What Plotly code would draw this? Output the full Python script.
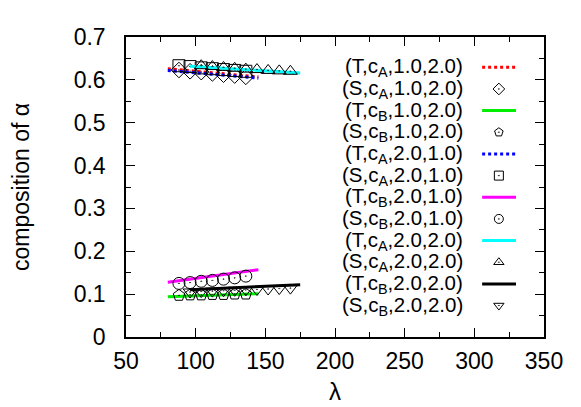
import plotly.graph_objects as go

# lambda grids of the simulation points
lam_short = [88, 96, 104, 112, 120, 128, 136]
lam_tri = [104, 112, 120, 128, 136, 144, 152, 160, 168]
lam_dtri = [96, 104, 112, 120, 128, 136, 144, 152, 160, 168]

# theory lines (end points)
lam_t1 = [80, 145]
lam_t2 = [96, 175]
t_ca_12 = [0.626, 0.607]
t_cb_12 = [0.094, 0.101]
t_ca_21 = [0.622, 0.604]
t_cb_21 = [0.128, 0.157]
t_ca_22 = [0.632, 0.616]
t_cb_22 = [0.110, 0.122]

# simulation values
s_ca_12 = [0.623, 0.620, 0.618, 0.615, 0.612, 0.610, 0.607]
s_cb_12 = [0.097, 0.098, 0.098, 0.099, 0.099, 0.100, 0.100]
s_ca_21 = [0.633, 0.631, 0.628, 0.626, 0.624, 0.622, 0.620]
s_cb_21 = [0.125, 0.127, 0.130, 0.132, 0.135, 0.138, 0.142]
s_ca_22 = [0.633, 0.631, 0.629, 0.627, 0.625, 0.624, 0.622, 0.621, 0.620]
s_cb_22 = [0.105, 0.106, 0.107, 0.108, 0.109, 0.110, 0.111, 0.112, 0.113, 0.114]

FONT = "Liberation Sans, Arial, sans-serif"

# (label, kind, x, y, style)
series = [
    ("(T,c<sub>A</sub>,1.0,2.0)", "line", lam_t1, t_ca_12, dict(color="#ff0000", dash="dot")),
    ("(S,c<sub>A</sub>,1.0,2.0)", "marker", lam_short, s_ca_12, "diamond-open-dot"),
    ("(T,c<sub>B</sub>,1.0,2.0)", "line", lam_t1, t_cb_12, dict(color="#00ee00", dash="solid")),
    ("(S,c<sub>B</sub>,1.0,2.0)", "marker", lam_short, s_cb_12, "pentagon-open-dot"),
    ("(T,c<sub>A</sub>,2.0,1.0)", "line", lam_t1, t_ca_21, dict(color="#0000ff", dash="dot")),
    ("(S,c<sub>A</sub>,2.0,1.0)", "marker", lam_short, s_ca_21, "square-open-dot"),
    ("(T,c<sub>B</sub>,2.0,1.0)", "line", lam_t1, t_cb_21, dict(color="#ff00ff", dash="solid")),
    ("(S,c<sub>B</sub>,2.0,1.0)", "marker", lam_short, s_cb_21, "circle-open-dot"),
    ("(T,c<sub>A</sub>,2.0,2.0)", "line", lam_t2, t_ca_22, dict(color="#00ffff", dash="solid")),
    ("(S,c<sub>A</sub>,2.0,2.0)", "marker", lam_tri, s_ca_22, "triangle-up-open-dot"),
    ("(T,c<sub>B</sub>,2.0,2.0)", "line", lam_t2, t_cb_22, dict(color="#000000", dash="solid")),
    ("(S,c<sub>B</sub>,2.0,2.0)", "marker", lam_dtri, s_cb_22, "triangle-down-open-dot"),
]

fig = go.Figure()

# legend geometry (paper coords of the plot area)
row0 = 0.899
row_step = 0.0722
text_x = 0.811
sample_x0, sample_x1, sample_xm = 0.852, 0.933, 0.892

leg_x, leg_y, leg_sym = [], [], []
for i, (label, kind, xs, ys, style) in enumerate(series):
    ry = row0 - i * row_step
    if kind == "line":
        fig.add_trace(go.Scatter(x=xs, y=ys, mode="lines",
                                 line=dict(color=style["color"], dash=style["dash"], width=3)))
        fig.add_shape(type="line", xref="paper", yref="paper",
                      x0=sample_x0, x1=sample_x1, y0=ry, y1=ry,
                      line=dict(color=style["color"], dash=style["dash"], width=3))
    else:
        fig.add_trace(go.Scatter(x=xs, y=ys, mode="markers",
                                 marker=dict(symbol=style, size=12, color="black",
                                             line=dict(width=1, color="black"))))
        leg_x.append(sample_xm)
        leg_y.append(ry)
        leg_sym.append(style)
    fig.add_annotation(text=label, xref="paper", yref="paper", x=text_x, y=ry,
                       xanchor="right", yanchor="middle", showarrow=False,
                       font=dict(family=FONT, size=20.5, color="black"))

# legend marker samples on an overlay axis spanning the plot area
fig.add_trace(go.Scatter(x=leg_x, y=leg_y, mode="markers", xaxis="x2", yaxis="y2",
                         marker=dict(symbol=leg_sym, size=9, color="black",
                                     line=dict(width=1, color="black"))))

axis_common = dict(
    showgrid=False, zeroline=False, showline=True, linecolor="black", linewidth=1.5,
    mirror="allticks", ticks="inside", ticklen=9, tickwidth=1, tickcolor="black",
    tickfont=dict(family=FONT, size=23, color="black"),
)

fig.update_layout(
    width=581, height=407,
    margin=dict(l=118, r=45, t=29, b=78),
    paper_bgcolor="white", plot_bgcolor="white",
    showlegend=False,
    xaxis=dict(range=[50, 350], dtick=50, tick0=50,
               minor=dict(ticks="inside", dtick=25, ticklen=5, tickcolor="black"),
               ticklabelstandoff=3,
               title=dict(text="λ", font=dict(family=FONT, size=24, color="black"), standoff=10),
               **axis_common),
    yaxis=dict(range=[0, 0.7], dtick=0.1, tick0=0,
               minor=dict(ticks="inside", dtick=0.05, ticklen=5, tickcolor="black"),
               ticklabelstandoff=14,
               title=dict(text="composition of α", font=dict(family=FONT, size=23, color="black"),
                          standoff=39),
               **axis_common),
    xaxis2=dict(overlaying="x", range=[0, 1], visible=False),
    yaxis2=dict(overlaying="y", range=[0, 1], visible=False),
)

fig.write_html("out.html")
